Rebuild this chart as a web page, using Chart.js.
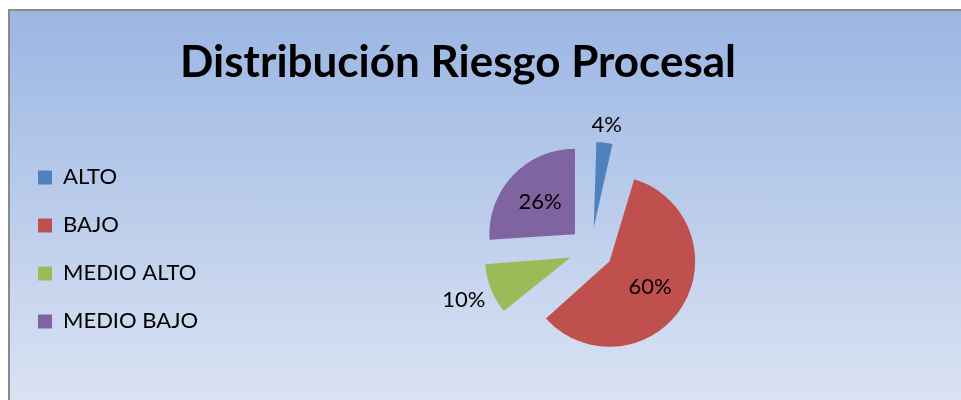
<!DOCTYPE html>
<html><head><meta charset="utf-8">
<script src="https://cdn.jsdelivr.net/npm/chart.js@4.4.1/dist/chart.umd.min.js"></script>
<style>
html,body{margin:0;padding:0;background:#fff;width:961px;height:400px;overflow:hidden;}
#frame{position:absolute;left:8px;top:9px;width:1000px;height:420px;border-left:2px solid #8a8a8a;border-top:2px solid #8a8a8a;background:linear-gradient(to bottom,#9bb6e3 0%,#dfe6f4 100%);}
#c{position:absolute;left:0;top:0;}
</style></head><body>
<div id="frame"></div>
<canvas id="c" width="961" height="400"></canvas>
<script>
const chartTitle = 'Distribución Riesgo Procesal';
const categories = ['ALTO', 'BAJO', 'MEDIO ALTO', 'MEDIO BAJO'];
const percentages = [4, 60, 10, 26];
const sliceColors = ['#4f81bd', '#c0504d', '#9bbb59', '#8064a2'];
const labelPlacement = ['outside', 'inside', 'outside', 'inside'];

const FONT = 'Lato';
const LEGEND_BLOCK = 266;

// invisible layout box that widens the legend column so the pie sits right of centre
const spacerPlugin = {
  id: 'legendSpacer',
  beforeInit(chart) {
    const box = {
      position: 'left', weight: 0, fullSize: false, options: {},
      left: 0, top: 0, right: 0, bottom: 0, width: 0, height: 0,
      isHorizontal() { return false; },
      update(maxWidth, maxHeight) {
        const lw = chart.legend ? chart.legend.width : 0;
        this.width = Math.max(0, LEGEND_BLOCK - lw);
        this.height = maxHeight;
      },
      draw() {}
    };
    Chart.layouts.addBox(chart, box);
  }
};

// keep every exploded slice at the same radius
const evenExplode = {
  id: 'evenExplode',
  beforeDatasetDraw(chart, args) {
    args.meta.data.forEach(arc => {
      const off = (arc.options.offset || 0) / 4;
      const fix = 1 - Math.sin(Math.min(Math.PI, arc.circumference || 0));
      arc.$baseR = arc.outerRadius;
      arc.outerRadius = arc.outerRadius - off * fix;
    });
  },
  afterDatasetDraw(chart, args) {
    args.meta.data.forEach(arc => { arc.outerRadius = arc.$baseR; });
  }
};

const sliceLabels = {
  id: 'sliceLabels',
  afterDatasetsDraw(chart) {
    const meta = chart.getDatasetMeta(0);
    const ctx = chart.ctx;
    ctx.save();
    ctx.font = '22px ' + FONT;
    ctx.fillStyle = '#000';
    ctx.textAlign = 'center';
    ctx.textBaseline = 'middle';
    meta.data.forEach((arc, i) => {
      const mid = (arc.startAngle + arc.endAngle) / 2;
      const disp = (arc.options.offset || 0) / 4;
      const R = arc.outerRadius;
      const text = percentages[i] + '%';
      const ux = Math.cos(mid), uy = Math.sin(mid);
      let d;
      if (labelPlacement[i] === 'inside') {
        d = disp + R * 0.56;
      } else {
        const w = ctx.measureText(text).width;
        d = disp + R + 5 + Math.abs(ux) * w / 2 + Math.abs(uy) * 11;
      }
      ctx.fillText(text, arc.x + ux * d, arc.y + uy * d);
    });
    ctx.restore();
  }
};

new Chart(document.getElementById('c'), {
  type: 'pie',
  data: {
    labels: categories,
    datasets: [{
      data: percentages,
      backgroundColor: sliceColors,
      borderWidth: 0,
      offset: 88,
      hoverOffset: 0
    }]
  },
  options: {
    responsive: false,
    devicePixelRatio: 1,
    animation: false,
    events: [],
    layout: { padding: { left: 12, right: 57, top: 0, bottom: 21 } },
    plugins: {
      title: {
        display: true,
        text: chartTitle,
        color: '#000',
        font: { family: FONT, size: 44, weight: 'bold', lineHeight: 1.2 },
        padding: { top: 36, bottom: 31 }
      },
      legend: {
        position: 'left',
        align: 'center',
        fullSize: false,
        labels: {
          boxWidth: 14, boxHeight: 14, padding: 26,
          color: '#000',
          font: { family: FONT, size: 22 }
        }
      },
      tooltip: { enabled: false }
    }
  },
  plugins: [spacerPlugin, evenExplode, sliceLabels]
});
</script>
</body></html>
